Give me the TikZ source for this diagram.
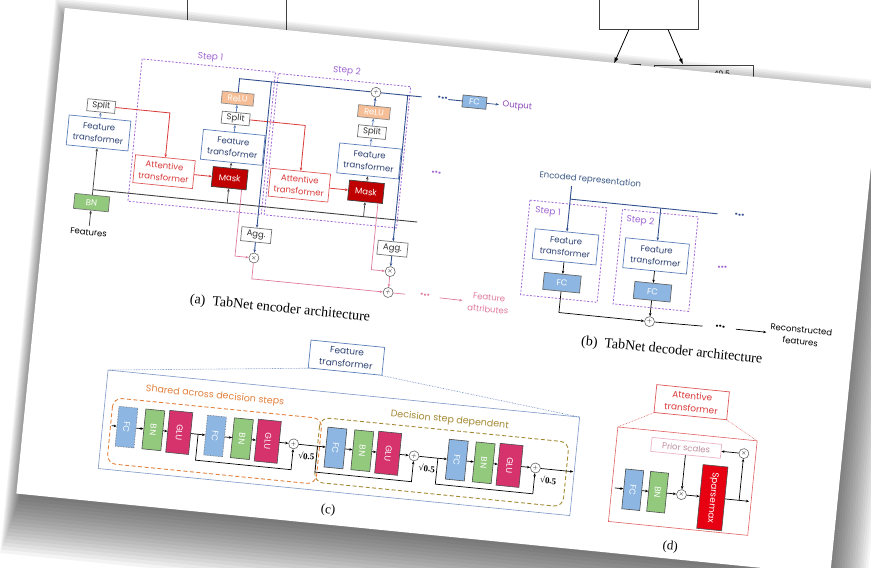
\documentclass[tikz,border=0pt]{standalone}
\usepackage{fontspec}
\setmainfont{Poppins}
\newfontfamily\capfont{Liberation Serif}
\newfontfamily\bgfont{Liberation Sans}
\usetikzlibrary{arrows.meta, calc, positioning}

\definecolor{ftblue}{HTML}{5B7DB8}
\definecolor{fttext}{HTML}{2E4272}
\definecolor{steppurple}{HTML}{A066D3}
\definecolor{atred}{HTML}{D93A3A}
\definecolor{maskred}{HTML}{C00000}
\definecolor{relufill}{HTML}{F5BE96}
\definecolor{bnfill}{HTML}{93C97D}
\definecolor{fcfill}{HTML}{8DB6E2}
\definecolor{glufill}{HTML}{D6336C}
\definecolor{sparsefill}{HTML}{E60012}
\definecolor{attrpink}{HTML}{E07BA0}
\definecolor{busblue}{HTML}{34508F}
\definecolor{sharedorange}{HTML}{E3823F}
\definecolor{stepolive}{HTML}{A58A35}
\definecolor{priorpink}{HTML}{EDB3C8}
\definecolor{outpurple}{HTML}{8A44B8}
\definecolor{enctext}{HTML}{3C5A86}

\begin{document}
\begin{tikzpicture}[x=1pt, y=-1pt, line width=0.7pt,
    font=\fontsize{8.5}{12}\selectfont,
    arrow/.style={-{Stealth[length=3.2pt, width=2.6pt]}},
    bus/.style={busblue, line width=0.9pt},
    redline/.style={atred, line width=0.8pt},
    pinkline/.style={attrpink, line width=0.7pt},
    ftbox/.style={rectangle, draw=ftblue, fill=white, text=fttext,
        minimum width=62, minimum height=30, inner sep=1pt, align=center},
    atbox/.style={rectangle, draw=atred!85, fill=white, text=atred,
        minimum width=60, minimum height=28, inner sep=1pt, align=center},
    splitbox/.style={rectangle, draw=black!55, fill=white, text=black!80,
        minimum width=28, minimum height=12, inner sep=1pt},
    relubox/.style={rectangle, draw=black!45, fill=relufill, text=white,
        minimum width=32, minimum height=12, inner sep=1pt},
    maskbox/.style={rectangle, draw=black!75, fill=maskred, text=white,
        minimum width=35, minimum height=20, inner sep=1pt},
    bnbox/.style={rectangle, draw=black!55, fill=bnfill, text=white,
        minimum width=35, minimum height=15, inner sep=1pt},
    aggbox/.style={rectangle, draw=black!55, fill=white, text=black!80,
        minimum width=30, minimum height=14, inner sep=1pt},
    fcbox/.style={rectangle, draw=black!60, fill=fcfill, text=white,
        minimum width=37, minimum height=17, inner sep=1pt},
    opnode/.style={circle, draw=black!60, line width=0.6pt, fill=white, inner sep=0pt,
        minimum size=10, font=\fontsize{6}{6}\selectfont},
    vblock/.style={rectangle, rotate=-90, draw=black!70, line width=0.6pt, text=white,
        minimum width=40, minimum height=19, inner sep=0pt},
    fcv/.style={vblock, fill=fcfill},
    sharedfc/.style={fcv, draw=black!60, densely dotted},
    bnv/.style={vblock, fill=bnfill},
    gluv/.style={vblock, fill=glufill, minimum width=42, minimum height=23},
    stepbox/.style={draw=steppurple, line width=0.8pt, dash pattern=on 2pt off 1.6pt},
    steplabel/.style={text=steppurple, font=\fontsize{9}{9}\selectfont},
    captext/.style={font=\capfont\fontsize{14}{15}\selectfont},
    sqrtlabel/.style={font=\capfont\bfseries\fontsize{9}{9}\selectfont, inner sep=0.5pt},
    dotsnode/.style={font=\bfseries\fontsize{11}{11}\selectfont, inner sep=0.5pt}]

  \useasboundingbox (0,0) rectangle (871,568);

  % flowchart lying behind the page
  \begin{scope}[black!75, line width=0.8pt, font=\bgfont\fontsize{8}{8}\selectfont]
    \node[draw, minimum width=99, minimum height=44] (bgleft) at (236.5,8) {};
    \node[draw, minimum width=99, minimum height=44] (bgright) at (648.5,7) {};
    \node[draw, minimum width=80, minimum height=36] (bgmid) at (600,82) {};
    \node[draw, minimum width=99, minimum height=36] (bgval) at (703.5,83) {};
    \node[text=black] (bgnum) at (722,74) {40.5};
    \draw[-{Latex[length=6pt, width=4pt]}, black] (bgright.south -| 629,0) -- (bgmid.north -| 614,0);
    \draw[-{Latex[length=6pt, width=4pt]}, black] (bgright.south -| 668,0) -- (bgval.north -| 683,0);
  \end{scope}

  \begin{scope}[shift={(65,6)}, rotate=-5.7, transform shape]
    % page and its shadow
    \foreach \i in {1,...,18}
      \fill[black, opacity=0.045] (6-0.9*\i, 22-1.6*\i) rectangle (812+2.4*\i, 486+3.6*\i);
    \fill[white] (0,2) rectangle (818,490);

    % (a) encoder
    \node[steplabel] (step1) at (150,37) {Step 1};
    \node[steplabel] (step2) at (287,37) {Step 2};
    \draw[stepbox] (82,45) rectangle (216,188);
    \draw[stepbox] (219,46) rectangle (352,188);

    \node (feat) at (46,223) {Features};
    \node[bnbox] (bn) at (46,193) {BN};
    \node[ftbox] (ft0) at (46,123) {Feature\\transformer};
    \node[splitbox] (split0) at (46,96) {Split};
    \coordinate (fbusL) at (46,180);
    \coordinate (fbusR) at (372,180);
    \draw[black!75, line width=0.9pt] (fbusL) -- (fbusR);
    \draw[arrow, black!75] (feat) -- (bn);
    \draw[arrow, black!75] (bn) -- (ft0);
    \draw[arrow, ftblue] (ft0) -- (split0);

    \node[atbox] (at1) at (115,155) {Attentive\\transformer};
    \node[maskbox] (mask1) at (181,155) {Mask};
    \node[ftbox] (ft1) at (181,124) {Feature\\transformer};
    \node[splitbox] (split1) at (181,95) {Split};
    \node[relubox] (relu1) at (181,75) {ReLU};

    \node[atbox] (at2) at (251,155) {Attentive\\transformer};
    \node[maskbox] (mask2) at (318,155) {Mask};
    \node[ftbox] (ft2) at (318,124) {Feature\\transformer};
    \node[splitbox] (split2) at (318,95) {Split};
    \node[relubox] (relu2) at (318,75) {ReLU};
    \node[opnode] (sum1) at (318,55) {$+$};

    \draw[redline, arrow] (split0.east) -| (at1.north);
    \draw[redline, arrow] (at1) -- (mask1);
    \draw[arrow, black!75] (mask1 |- fbusL) -- (mask1);
    \draw[arrow, black!75] (mask1) -- (ft1);
    \draw[arrow, ftblue] (ft1) -- (split1);
    \draw[arrow, ftblue] (split1) -- (relu1);
    \draw[redline, arrow] (split1.east) -| (at2.north);
    \draw[redline, arrow] (at2) -- (mask2);
    \draw[arrow, black!75] (mask2 |- fbusL) -- (mask2);
    \draw[arrow, black!75] (mask2) -- (ft2);
    \draw[arrow, ftblue] (ft2) -- (split2);
    \draw[arrow, ftblue] (split2) -- (relu2);

    % output bus
    \coordinate (busL) at (relu1 |- sum1);
    \coordinate (busR) at (364,55);
    \draw[bus] (relu1) -- (busL) -- (sum1);
    \draw[bus, arrow] (relu2) -- (sum1);
    \draw[bus] (sum1) -- (busR);
    \node[dotsnode, text=busblue] (outdots) at (385,55) {···};
    \node[fcbox, minimum width=24, minimum height=12] (fcout) at (417,55) {FC};
    \node[text=outpurple] (output) at (460,55) {Output};
    \draw[bus] (outdots) -- (fcout);
    \draw[arrow, busblue] (fcout) -- (output);
    \node[dotsnode, text=steppurple] (encdots) at (386,130) {···};

    % feature attributes
    \coordinate (tap1) at (213,55);
    \coordinate (tap2) at (350,55);
    \node[aggbox] (agg1) at (tap1 |- 0,209) {Agg.};
    \node[aggbox] (agg2) at (tap2 |- 0,209) {Agg.};
    \node[opnode] (mul1) at (213,232) {$\times$};
    \node[opnode] (mul2) at (350,232) {$\times$};
    \node[opnode] (sum2) at (350,253) {$+$};
    \draw[bus, arrow] (tap1) -- (agg1);
    \draw[bus, arrow] (tap2) -- (agg2);
    \draw[bus, arrow] (agg1) -- (mul1);
    \draw[bus, arrow] (agg2) -- (mul2);
    \draw[pinkline, arrow] ($(mask1.south)+(13,0)$) |- (mul1);
    \draw[pinkline, arrow] ($(mask2.south)+(13,0)$) |- (mul2);
    \draw[pinkline, arrow] (mul1) |- (sum2);
    \draw[pinkline, arrow] (mul2) -- (sum2);
    \coordinate (attrend) at (367,253);
    \draw[pinkline] (sum2) -- (attrend);
    \node[dotsnode, text=attrpink] (attrdots) at (387,253) {···};
    \node[text=attrpink, align=center] (attrtext) at (451,254) {Feature\\attributes};
    \draw[pinkline, arrow, shorten <=9pt, shorten >=2pt] (attrdots) -- (attrtext);

    \node[captext] (capa) at (244,280) {(a)\enspace TabNet encoder architecture};

    % (b) decoder
    \node[text=enctext] (encrep) at (540,121) {Encoded representation};
    \draw[stepbox] (482,147) rectangle (559,242);
    \draw[stepbox] (575,147) rectangle (651,242);
    \node[steplabel] (dstep1) at (501,157) {Step 1};
    \node[steplabel] (dstep2) at (594,157) {Step 2};
    \node[ftbox, minimum width=64] (dft1) at (522,190) {Feature\\transformer};
    \node[ftbox, minimum width=64] (dft2) at (613,190) {Feature\\transformer};
    \node[fcbox] (dfc1) at (522,226) {FC};
    \node[fcbox] (dfc2) at (613,226) {FC};
    \node[opnode] (dsum) at (613,256) {$+$};
    \coordinate (dbusL) at (522,142);
    \coordinate (dbusR) at (670,142);
    \draw[bus, arrow] (encrep.south -| dft1) -- (dft1);
    \draw[bus] (dbusL) -- (dbusR);
    \draw[bus, arrow] (dft2 |- dbusL) -- (dft2);
    \node[dotsnode, text=busblue] (ddots) at (692,142) {···};
    \node[dotsnode, text=steppurple] (decdots) at (680,196) {···};
    \draw[arrow] (dft1) -- (dfc1);
    \draw[arrow] (dft2) -- (dfc2);
    \draw[arrow] (dfc1) |- (dsum);
    \draw[arrow] (dfc2) -- (dsum);
    \node[dotsnode] (recdots) at (684,255) {···};
    \node[align=center] (recon) at (765,255) {Reconstructed\\features};
    \draw[shorten >=12pt] (dsum) -- (recdots);
    \draw[arrow, shorten <=10pt] (recdots) -- (recon);

    \node[captext] (capb) at (638,283) {(b)\enspace TabNet decoder architecture};

    % (c) feature transformer
    \node[ftbox, minimum width=74, minimum height=28, font=\fontsize{9}{12.6}\selectfont] (ftlabel) at (315,322) {Feature\\transformer};
    \coordinate (cNW) at (79,358);
    \coordinate (cSE) at (553,457);
    \draw[ftblue!80, line width=0.6pt] (cNW) rectangle (cSE);
    \draw[ftblue, line width=0.6pt, densely dotted] (ftlabel.south west) -- (cNW);
    \draw[ftblue, line width=0.6pt, densely dotted] (ftlabel.south east) -- (cNW -| cSE);
    \draw[stepolive, line width=0.9pt, dash pattern=on 4pt off 2.5pt, rounded corners=9] (295,384) rectangle (545,449);
    \draw[sharedorange, line width=0.9pt, dash pattern=on 4pt off 2.5pt, rounded corners=9] (87,385) rectangle (297,451);
    \node[text=sharedorange, font=\fontsize{9.5}{9.5}\selectfont] (sharedlbl) at (188,373) {Shared across decision steps};
    \node[text=stepolive, font=\fontsize{9.5}{9.5}\selectfont] (deplbl) at (424,374) {Decision step dependent};

    \node[sharedfc] (fc1) at (103,413) {FC};
    \node[bnv] (bn1) at (130,413) {BN};
    \node[gluv] (glu1) at (156,413) {GLU};
    \node[sharedfc] (fc2) at (192,413) {FC};
    \node[bnv] (bn2) at (219,413) {BN};
    \node[gluv] (glu2) at (245,413) {GLU};
    \node[opnode] (csum1) at (271,413) {$+$};
    \node[fcv] (fc3) at (313,413) {FC};
    \node[bnv] (bn3) at (340,413) {BN};
    \node[gluv] (glu3) at (366,413) {GLU};
    \node[opnode] (csum2) at (392,413) {$+$};
    \node[fcv] (fc4) at (435,413) {FC};
    \node[bnv] (bn4) at (462,413) {BN};
    \node[gluv] (glu4) at (488,413) {GLU};
    \node[opnode] (csum3) at (514,413) {$+$};
    \node[sqrtlabel] (sq1) at ($(csum1)+(14,11)$) {√0.5};
    \node[sqrtlabel] (sq2) at ($(csum2)+(14,11)$) {√0.5};
    \node[sqrtlabel] (sq3) at ($(csum3)+(14,11)$) {√0.5};

    \coordinate (cin) at (88,413);
    \coordinate (cout) at (552,413);
    \coordinate (cj1) at (175,413);
    \coordinate (cj2) at (295,413);
    \coordinate (cj3) at (416,413);
    \draw[arrow] (cin) -- (fc1);
    \draw[arrow] (fc1) -- (bn1);
    \draw[arrow] (bn1) -- (glu1);
    \draw[arrow] (glu1) -- (fc2);
    \draw[arrow] (fc2) -- (bn2);
    \draw[arrow] (bn2) -- (glu2);
    \draw[arrow] (glu2) -- (csum1);
    \draw[arrow] (csum1) -- (fc3);
    \draw[arrow] (fc3) -- (bn3);
    \draw[arrow] (bn3) -- (glu3);
    \draw[arrow] (glu3) -- (csum2);
    \draw[arrow] (csum2) -- (fc4);
    \draw[arrow] (fc4) -- (bn4);
    \draw[arrow] (bn4) -- (glu4);
    \draw[arrow] (glu4) -- (csum3);
    \draw[arrow] (csum3) -- (cout);
    \draw[arrow] (cj1) -- ++(0,26) -| (csum1);
    \draw[arrow] (cj2) -- ++(0,26) -| (csum2);
    \draw[arrow] (cj3) -- ++(0,26) -| (csum3);

    \node[captext, font=\capfont\fontsize{13}{13}\selectfont] (capc) at (312,476) {(c)};

    % (d) attentive transformer
    \node[atbox, minimum width=73, minimum height=28, font=\fontsize{9}{12.6}\selectfont] (atlabel) at (663,332) {Attentive\\transformer};
    \coordinate (dNW) at (592,364);
    \coordinate (dSE) at (732,459);
    \draw[atred!80, line width=0.6pt] (dNW) rectangle (dSE);
    \draw[atred!80, line width=0.6pt, densely dotted] (atlabel.south west) -- (dNW);
    \draw[atred!80, line width=0.6pt, densely dotted] (atlabel.south east) -- (dNW -| dSE);
    \node[rectangle, draw=priorpink, text=priorpink!80!black, minimum width=70, minimum height=14, inner sep=1pt] (prior) at (662,378) {Prior scales};
    \node[fcv, minimum height=18] (afc) at (613,425) {FC};
    \node[bnv, minimum height=18] (abn) at (638,425) {BN};
    \node[opnode] (amul) at (662,425) {$\times$};
    \node[vblock, fill=sparsefill, minimum width=64, minimum height=25, font=\fontsize{9}{9}\selectfont] (sparse) at (693,425) {Sparsemax};
    \node[opnode] (pmul) at (720,378) {$\times$};
    \coordinate (ain) at (595,425);
    \coordinate (aout) at (730,425);
    \coordinate (ajunc) at (pmul |- aout);
    \draw[arrow] (ain) -- (afc);
    \draw[arrow] (afc) -- (abn);
    \draw[arrow] (abn) -- (amul);
    \draw[arrow] (amul) -- (sparse);
    \draw[arrow] (prior) -- (amul);
    \draw[arrow] (sparse) -- (aout);
    \draw[arrow] (ajunc) -- (pmul);
    \draw[arrow] (pmul) -- (prior);

    \node[captext, font=\capfont\fontsize{13}{13}\selectfont] (capd) at (656,478) {(d)};
  \end{scope}
\end{tikzpicture}
\end{document}
